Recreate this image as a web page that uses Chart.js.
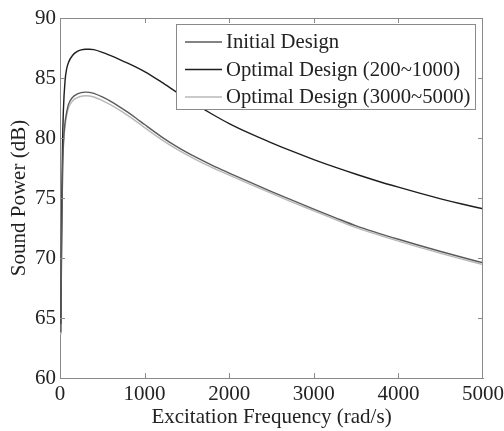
<!DOCTYPE html>
<html>
<head>
<meta charset="utf-8">
<script src="https://cdn.jsdelivr.net/npm/chart.js@4.4.1/dist/chart.umd.min.js"></script>
<style>
  html, body { margin: 0; padding: 0; background: #fff; }
  #wrap { width: 504px; height: 431px; }
</style>
</head>
<body>
<div id="wrap"><canvas id="chartPotencia"></canvas></div>
<script>
// frecuencias (rad/s) y potencia sonora (dB)
const frecuencias = [10, 20, 30, 40, 60, 80, 100, 150, 200, 250, 300, 350, 400, 500, 600, 700, 800, 900, 1000,
    1200, 1400, 1600, 1800, 2000, 2250, 2500, 2750, 3000, 3250, 3500, 3750, 4000, 4250, 4500, 4750, 5000];

const disenoInicial = [63.8, 72.0, 77.0, 79.5, 81.3, 82.2, 82.8, 83.4, 83.65, 83.78, 83.82, 83.8, 83.72, 83.42, 83.05, 82.62, 82.15, 81.65, 81.12,
    80.1, 79.2, 78.42, 77.72, 77.08, 76.3, 75.54, 74.8, 74.08, 73.37, 72.68, 72.1, 71.56, 71.04, 70.54, 70.06, 69.6];

const optimo200_1000 = [64.5, 74.0, 79.5, 82.3, 84.8, 85.8, 86.3, 86.9, 87.2, 87.35, 87.4, 87.4, 87.36, 87.14, 86.86, 86.56, 86.24, 85.9, 85.54,
    84.66, 83.72, 82.82, 81.98, 81.2, 80.36, 79.6, 78.88, 78.2, 77.57, 76.98, 76.42, 75.9, 75.4, 74.93, 74.5, 74.1];

const optimo3000_5000 = [63.6, 71.7, 76.7, 79.2, 81.0, 81.9, 82.5, 83.1, 83.35, 83.48, 83.52, 83.5, 83.42, 83.12, 82.76, 82.34, 81.88, 81.39, 80.87,
    79.87, 78.99, 78.22, 77.53, 76.9, 76.13, 75.38, 74.64, 73.93, 73.22, 72.53, 71.95, 71.41, 70.89, 70.39, 69.91, 69.45];

const ticksX = [0, 1000, 2000, 3000, 4000, 5000];
const ticksY = [60, 65, 70, 75, 80, 85, 90];

const FUENTE = "'Liberation Serif', 'Times New Roman', serif";
const colorTexto = '#222';
const colorMarco = '#8a8a8a';

function puntos(valores) {
    return frecuencias.map((f, i) => ({ x: f, y: valores[i] }));
}

// marco completo, marcas hacia dentro y leyenda dentro del area
const marcoYLeyenda = {
    id: 'marcoYLeyenda',
    afterDraw(chart) {
        const { ctx, chartArea: a, scales: { x, y } } = chart;
        ctx.save();
        ctx.strokeStyle = colorMarco;
        ctx.lineWidth = 1;
        ctx.beginPath();
        ctx.moveTo(a.left, a.top + 0.5);
        ctx.lineTo(a.right, a.top + 0.5);
        ctx.moveTo(a.right - 0.5, a.top);
        ctx.lineTo(a.right - 0.5, a.bottom);
        const largo = 5;
        ticksX.slice(1, -1).forEach(v => {
            const px = Math.round(x.getPixelForValue(v)) + 0.5;
            ctx.moveTo(px, a.bottom); ctx.lineTo(px, a.bottom - largo);
            ctx.moveTo(px, a.top); ctx.lineTo(px, a.top + largo);
        });
        ticksY.slice(1, -1).forEach(v => {
            const py = Math.round(y.getPixelForValue(v)) + 0.5;
            ctx.moveTo(a.left, py); ctx.lineTo(a.left + largo, py);
            ctx.moveTo(a.right, py); ctx.lineTo(a.right - largo, py);
        });
        ctx.stroke();

        // leyenda
        const caja = { x: 176.5, y: 24.5, w: 299, h: 85 };
        ctx.fillStyle = '#fff';
        ctx.fillRect(caja.x, caja.y, caja.w, caja.h);
        ctx.strokeStyle = colorMarco;
        ctx.strokeRect(caja.x, caja.y, caja.w, caja.h);
        ctx.font = '20.7px ' + FUENTE;
        ctx.textBaseline = 'middle';
        ctx.textAlign = 'left';
        chart.data.datasets.forEach((ds, i) => {
            const fy = 42 + i * 27.5;
            ctx.strokeStyle = ds.borderColor;
            ctx.lineWidth = ds.borderWidth;
            ctx.beginPath();
            ctx.moveTo(185, fy);
            ctx.lineTo(222, fy);
            ctx.stroke();
            ctx.fillStyle = colorTexto;
            ctx.fillText(ds.label, 226, fy + 1);
        });
        ctx.restore();
    }
};

new Chart(document.getElementById('chartPotencia'), {
    type: 'line',
    data: {
        datasets: [
            { label: 'Initial Design', data: puntos(disenoInicial), borderColor: '#5a5a5a', borderWidth: 1.4 },
            { label: 'Optimal Design (200~1000)', data: puntos(optimo200_1000), borderColor: '#1e1e1e', borderWidth: 1.4 },
            { label: 'Optimal Design (3000~5000)', data: puntos(optimo3000_5000), borderColor: '#b8b8b8', borderWidth: 1.4 }
        ]
    },
    options: {
        responsive: true,
        maintainAspectRatio: false,
        animation: false,
        elements: {
            point: { radius: 0 },
            line: { cubicInterpolationMode: 'monotone' }
        },
        layout: { padding: { left: 0, right: 21, top: 18, bottom: 0 } },
        plugins: {
            legend: { display: false },
            tooltip: { enabled: false }
        },
        scales: {
            x: {
                type: 'linear',
                min: 0,
                max: 5000,
                afterBuildTicks: s => { s.ticks = ticksX.map(v => ({ value: v })); },
                afterFit: s => { s.height = 53; s.paddingLeft = 0; s.paddingRight = 0; },
                grid: { display: false, drawTicks: false },
                border: { display: true, color: colorMarco },
                ticks: {
                    color: colorTexto, padding: 4, maxRotation: 0,
                    font: { family: FUENTE, size: 21 },
                    callback: v => String(v)
                },
                title: {
                    display: true,
                    text: 'Excitation Frequency (rad/s)',
                    color: colorTexto,
                    padding: { top: 0, bottom: 1 },
                    font: { family: FUENTE, size: 21 }
                }
            },
            y: {
                min: 60,
                max: 90,
                afterBuildTicks: s => { s.ticks = ticksY.map(v => ({ value: v })); },
                afterFit: s => { s.width = 60; s.paddingTop = 0; s.paddingBottom = 0; },
                grid: { display: false, drawTicks: false },
                border: { display: true, color: colorMarco },
                ticks: {
                    color: colorTexto, padding: 4,
                    font: { family: FUENTE, size: 21 },
                    callback: v => String(v)
                },
                title: {
                    display: true,
                    text: 'Sound Power (dB)',
                    color: colorTexto,
                    padding: { top: 7, bottom: 0 },
                    font: { family: FUENTE, size: 21 }
                }
            }
        }
    },
    plugins: [marcoYLeyenda]
});
</script>
</body>
</html>
